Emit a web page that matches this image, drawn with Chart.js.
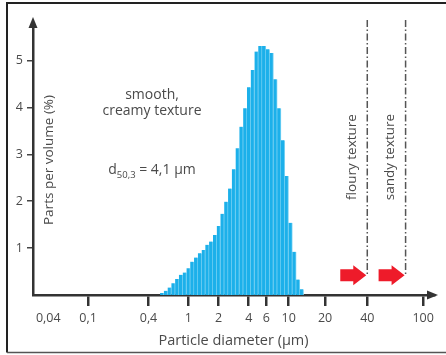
<!DOCTYPE html>
<html>
<head>
<meta charset="utf-8">
<title>Particle size distribution</title>
<script src="https://cdn.jsdelivr.net/npm/chart.js@4.4.1/dist/chart.umd.min.js"></script>
<style>
  html, body { margin: 0; padding: 0; background: #fff; }
  canvas { display: block; }
</style>
</head>
<body>
<canvas id="psd" width="446" height="355"></canvas>
<script>
// bin centres (µm) and share of volume (%)
const diameters = [0.545, 0.594, 0.648, 0.707, 0.770, 0.840, 0.917, 1.00, 1.09, 1.19,
  1.30, 1.415, 1.54, 1.68, 1.84, 2.00, 2.18, 2.38, 2.60, 2.83,
  3.09, 3.37, 3.68, 4.01, 4.37, 4.77, 5.20, 5.67, 6.19, 6.75,
  7.36, 8.03, 8.76, 9.55, 10.4, 11.4, 12.4, 13.5];
const volume = [0.04, 0.09, 0.16, 0.25, 0.34, 0.43, 0.48, 0.57, 0.71, 0.80,
  0.89, 0.96, 1.07, 1.14, 1.28, 1.47, 1.73, 1.99, 2.27, 2.68,
  3.13, 3.59, 3.98, 4.43, 4.80, 5.19, 5.31, 5.31, 5.24, 5.16,
  4.60, 3.98, 3.30, 2.54, 1.54, 0.92, 0.33, 0.12];

const xTicks = [0.04, 0.1, 0.4, 1, 2, 4, 6, 10, 20, 40, 100];
const xTickLabels = ['0,04', '0,1', '0,4', '1', '2', '4', '6', '10', '20', '40', '100'];
const yTicks = [1, 2, 3, 4, 5];

// texture limits (µm)
const textureLimits = [40, 75];
const textureNames = ['floury texture', 'sandy texture'];
const arrowLevel = 0.42; // height of the red arrows (%)

const TEXT = '#4a4a4a';
const AXIS = '#333';
const FONT = "'Open Sans', sans-serif";

// the printed axis is logarithmic, but the coarse end is drawn wider
const STRETCH_FROM = Math.log10(14);
function axisPos(d) {
  const L = Math.log10(d);
  return L <= STRETCH_FROM ? L : STRETCH_FROM + (L - STRETCH_FROM) * 1.4;
}

const overlay = {
  id: 'overlay',
  beforeDraw(chart) {
    const ctx = chart.ctx;
    ctx.save();
    ctx.fillStyle = '#fff';
    ctx.fillRect(0, 0, chart.width, chart.height);
    // frame of the figure
    ctx.strokeStyle = '#222';
    ctx.lineWidth = 2;
    ctx.beginPath();
    ctx.moveTo(446, 3); ctx.lineTo(7, 3); ctx.lineTo(7, 352.5);
    ctx.stroke();
    ctx.strokeStyle = '#555';
    ctx.lineWidth = 1.5;
    ctx.beginPath();
    ctx.moveTo(7, 352.5); ctx.lineTo(446, 352.5);
    ctx.stroke();
    ctx.restore();
  },
  afterDraw(chart) {
    const { ctx, chartArea: a, scales: { x, y } } = chart;
    ctx.save();

    // arrow heads on both axes
    ctx.fillStyle = AXIS;
    ctx.beginPath();
    ctx.moveTo(a.left, a.top - 6);
    ctx.lineTo(a.left - 4.5, a.top + 5);
    ctx.lineTo(a.left + 4.5, a.top + 5);
    ctx.closePath();
    ctx.fill();
    ctx.beginPath();
    ctx.moveTo(a.right + 4, a.bottom);
    ctx.lineTo(a.right - 7, a.bottom - 4.5);
    ctx.lineTo(a.right - 7, a.bottom + 4.5);
    ctx.closePath();
    ctx.fill();

    // texture limits: dash-dot lines, red arrows, rotated labels
    const ya = y.getPixelForValue(arrowLevel);
    textureLimits.forEach((d, i) => {
      const xl = x.getPixelForValue(axisPos(d));
      ctx.strokeStyle = '#555';
      ctx.lineWidth = 1.5;
      ctx.setLineDash([7, 2.5, 1.5, 2.5]);
      ctx.beginPath();
      ctx.moveTo(xl, a.top - 3);
      ctx.lineTo(xl, ya);
      ctx.stroke();
      ctx.setLineDash([]);

      const tip = xl - 1;
      ctx.fillStyle = '#ee1b2a';
      ctx.beginPath();
      ctx.moveTo(tip - 26, ya - 6);
      ctx.lineTo(tip - 13, ya - 6);
      ctx.lineTo(tip - 13, ya - 10);
      ctx.lineTo(tip, ya);
      ctx.lineTo(tip - 13, ya + 10);
      ctx.lineTo(tip - 13, ya + 6);
      ctx.lineTo(tip - 26, ya + 6);
      ctx.closePath();
      ctx.fill();

      ctx.save();
      ctx.translate(xl - 15, 157);
      ctx.rotate(-Math.PI / 2);
      ctx.fillStyle = TEXT;
      ctx.font = '13.5px ' + FONT;
      ctx.textAlign = 'center';
      ctx.textBaseline = 'middle';
      ctx.fillText(textureNames[i], 0, 0);
      ctx.restore();
    });

    // y axis title sits inside the plot
    ctx.save();
    ctx.translate(49, 160);
    ctx.rotate(-Math.PI / 2);
    ctx.fillStyle = TEXT;
    ctx.font = '13.5px ' + FONT;
    ctx.textAlign = 'center';
    ctx.textBaseline = 'middle';
    ctx.fillText('Parts per volume (%)', 0, 0);
    ctx.restore();

    // annotations
    ctx.fillStyle = TEXT;
    ctx.font = '14px ' + FONT;
    ctx.textAlign = 'center';
    ctx.textBaseline = 'middle';
    ctx.fillText('smooth,', 152, 95);
    ctx.fillText('creamy texture', 152, 111);

    // d50,3 = 4,1 µm with subscript
    ctx.textAlign = 'left';
    ctx.font = '14px ' + FONT;
    const wD = ctx.measureText('d').width;
    const wRest = ctx.measureText(' = 4,1 µm').width;
    ctx.font = '9.5px ' + FONT;
    const wSub = ctx.measureText('50,3').width;
    const sx = 152 - (wD + wSub + wRest) / 2;
    ctx.font = '14px ' + FONT;
    ctx.fillText('d', sx, 170);
    ctx.font = '9.5px ' + FONT;
    ctx.fillText('50,3', sx + wD, 175);
    ctx.font = '14px ' + FONT;
    ctx.fillText(' = 4,1 µm', sx + wD + wSub, 170);

    ctx.restore();
  }
};

new Chart(document.getElementById('psd'), {
  type: 'bar',
  data: {
    datasets: [{
      data: diameters.map((d, i) => ({ x: axisPos(d), y: volume[i] })),
      backgroundColor: '#1cb0ea',
      borderColor: '#7ad2f3',
      borderWidth: { left: 0, right: 1, top: 0, bottom: 0 },
      barThickness: 'flex',
      categoryPercentage: 1,
      barPercentage: 1
    }]
  },
  options: {
    responsive: false,
    animation: false,
    devicePixelRatio: 1,
    layout: { padding: { left: 0, right: 12, top: 23, bottom: 0 } },
    plugins: {
      legend: { display: false },
      tooltip: { enabled: false }
    },
    scales: {
      x: {
        type: 'linear',
        min: -1.55,
        max: 2.45,
        offset: false,
        afterFit(s) { s.height = 60; },
        afterBuildTicks(s) { s.ticks = xTicks.map(v => ({ value: axisPos(v) })); },
        ticks: {
          callback: (v, i) => xTickLabels[i],
          color: TEXT,
          font: { family: FONT, size: 12.5 },
          padding: 5,
          maxRotation: 0,
          autoSkip: false
        },
        grid: {
          offset: false,
          drawOnChartArea: false,
          drawTicks: true,
          tickLength: 11,
          lineWidth: 2.5,
          color: c => (c.tick && c.tick.value === axisPos(0.04)) ? 'rgba(0,0,0,0)' : AXIS
        },
        border: { display: true, color: AXIS, width: 2.5 },
        title: {
          display: true,
          text: 'Particle diameter (µm)',
          color: TEXT,
          font: { family: FONT, size: 14.5 },
          padding: { top: 0, bottom: 5 }
        }
      },
      y: {
        min: 0,
        max: 5.8,
        afterFit(s) { s.width = 33; },
        afterBuildTicks(s) { s.ticks = yTicks.map(v => ({ value: v })); },
        ticks: {
          color: TEXT,
          font: { family: FONT, size: 12.5 },
          padding: 4
        },
        grid: {
          drawOnChartArea: false,
          drawTicks: true,
          tickLength: 6,
          lineWidth: 1.5,
          color: '#444'
        },
        border: { display: true, color: AXIS, width: 2.5 }
      }
    }
  },
  plugins: [overlay]
});
</script>
</body>
</html>
